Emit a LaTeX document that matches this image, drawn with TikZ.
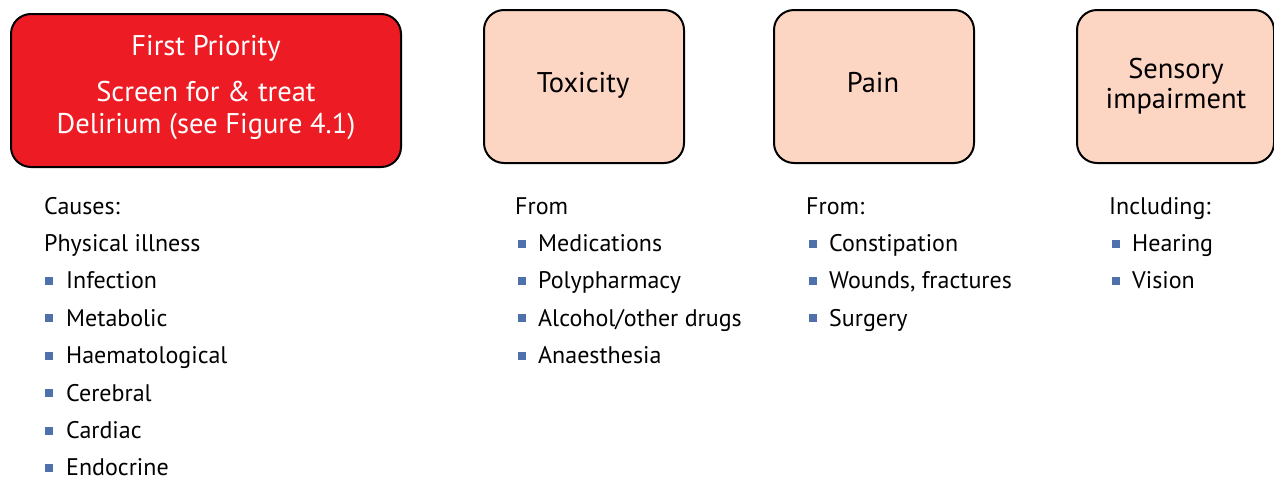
\documentclass[tikz,border=0pt]{standalone}
\usepackage{fontspec}
\setmainfont{PT Sans}
\definecolor{prio}{RGB}{237,28,36}
\definecolor{peach}{RGB}{252,213,195}
\definecolor{bul}{RGB}{79,113,171}
\begin{document}
\begin{tikzpicture}[x=1pt,y=-1pt,
  box/.style={draw=black, line width=2pt, rounded corners=20pt, anchor=north west, inner sep=0pt},
  title/.style={font=\fontsize{28.5}{32}\selectfont, anchor=base, inner sep=0pt},
  body/.style={font=\fontsize{24}{28}\selectfont, anchor=base west, inner sep=0pt},
  bulletbox/.style={fill=bul, minimum size=8pt, inner sep=0pt, anchor=south west}]
\useasboundingbox (0,0) rectangle (1274,477);
% boxes
\node[box, fill=prio, minimum width=390pt, minimum height=153pt] (prio) at (10,13) {};
\node[box, fill=peach, minimum width=200pt, minimum height=153pt] (tox) at (483,9) {};
\node[box, fill=peach, minimum width=200pt, minimum height=153pt] (pain) at (773,9) {};
\node[box, fill=peach, minimum width=197pt, minimum height=153pt] (sens) at (1076,9) {};
% titles
\node[title, text=white] (p1) at (206,55) {First Priority};
\node[title, text=white] (p2) at (206,101.7) {Screen for \& treat};
\node[title, text=white] (p3) at (206,133.3) {Delirium (see Figure 4.1)};
\node[title] (toxt) at (583,92.7) {Toxicity};
\node[title] (paint) at (873,92.7) {Pain};
\node[title] (sens1) at (1176,78.5) {Sensory};
\node[title] (sens2) at (1176,108.5) {impairment};
% column 1
\node[body] (c1h) at (44,214) {Causes:};
\node[body] (c1s) at (44,251.4) {Physical illness};
\foreach \t [count=\i] in {Infection,Metabolic,Haematological,Cerebral,Cardiac,Endocrine}{
  \node[bulletbox] (c1b\i) at (44.5,{214+37.4*(\i+1)-3.6}) {};
  \node[body] (c1t\i) at (66,{214+37.4*(\i+1)}) {\t};
}
% column 2
\node[body] (c2h) at (515,214) {From};
\foreach \t [count=\i] in {Medications,Polypharmacy,Alcohol/other drugs,Anaesthesia}{
  \node[bulletbox] (c2b\i) at (517.5,{214+37.4*\i-3.6}) {};
  \node[body] (c2t\i) at (538,{214+37.4*\i}) {\t};
}
% column 3
\node[body] (c3h) at (806,214) {From:};
\foreach \t [count=\i] in {Constipation,{Wounds, fractures},Surgery}{
  \node[bulletbox] (c3b\i) at (808.5,{214+37.4*\i-3.6}) {};
  \node[body] (c3t\i) at (829,{214+37.4*\i}) {\t};
}
% column 4
\node[body] (c4h) at (1109,214) {Including:};
\foreach \t [count=\i] in {Hearing,Vision}{
  \node[bulletbox] (c4b\i) at (1111.5,{214+37.4*\i-3.6}) {};
  \node[body] (c4t\i) at (1132,{214+37.4*\i}) {\t};
}
\end{tikzpicture}
\end{document}
